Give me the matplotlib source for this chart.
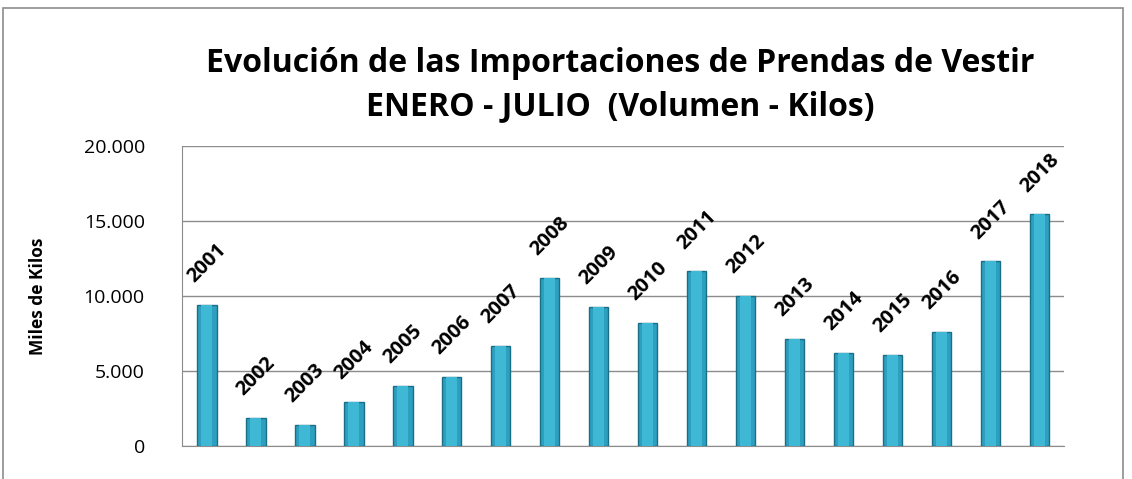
import matplotlib
matplotlib.use("Agg")
import matplotlib.pyplot as plt
from matplotlib.patches import Rectangle
from matplotlib.ticker import FuncFormatter

years = ["2001", "2002", "2003", "2004", "2005", "2006", "2007", "2008", "2009",
         "2010", "2011", "2012", "2013", "2014", "2015", "2016", "2017", "2018"]
kilos = [9420, 1890, 1420, 2930, 4000, 4600, 6670, 11200, 9270,
         8220, 11640, 10000, 7160, 6220, 6090, 7620, 12310, 15440]
yticks = [0, 5000, 10000, 15000, 20000]

plt.rcParams["font.family"] = ["Open Sans", "DejaVu Sans"]

fig = plt.figure(figsize=(11.32, 4.79), dpi=100)
ax = fig.add_axes([0.161, 0.069, 0.779, 0.626])

# outer chart border
fig.patches.append(Rectangle((0.003, -0.05), 0.989, 1.033, transform=fig.transFigure,
                             fill=False, edgecolor="#8c8c8c", linewidth=1.2))

x = list(range(len(years)))
ax.bar(x, kilos, width=0.4, color="#2d9fbf", edgecolor="#1a6f87", linewidth=1.0, zorder=3)
# lighter core to fake the bevel
ax.bar(x, kilos, width=0.22, color="#3fb8d6", linewidth=0, zorder=4)

for xi, v, yr in zip(x, kilos, years):
    ax.annotate(yr, (xi, v), xytext=(0, 13), textcoords="offset points",
                rotation=45, ha="center", va="bottom", fontsize=14.5, fontweight="bold")

ax.set_xlim(-0.5, len(years) - 0.5)
ax.set_ylim(0, 20000)
ax.set_yticks(yticks)
ax.yaxis.set_major_formatter(FuncFormatter(lambda v, p: f"{int(v):,}".replace(",", ".")))
ax.tick_params(axis="y", length=0, labelsize=14, pad=27)
ax.set_xticks([])
ax.grid(axis="y", color="#8c8c8c", linewidth=1.0, zorder=0)
for s in ["top", "right"]:
    ax.spines[s].set_visible(False)
ax.spines["left"].set_color("#8c8c8c")
ax.spines["bottom"].set_color("#8c8c8c")

ax.set_ylabel("Miles de Kilos", fontsize=12.5, fontweight="bold", labelpad=26)

fig.text(0.548, 0.868, "Evolución de las Importaciones de Prendas de Vestir",
         ha="center", va="center", fontsize=23, fontweight="bold")
fig.text(0.548, 0.778, "ENERO - JULIO  (Volumen - Kilos)",
         ha="center", va="center", fontsize=23, fontweight="bold")

fig.savefig("out.png", dpi=100)
